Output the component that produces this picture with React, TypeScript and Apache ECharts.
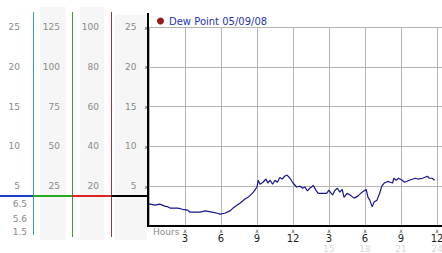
import React, { useEffect, useRef } from "react";
import * as echarts from "echarts";

// ---- data ----
const seriesName = "Dew Point 05/09/08";
const hours = [
  0, 0.1, 0.5, 0.9, 1.3, 1.6, 1.75, 2.4, 2.8, 3.2, 3.4, 4.25, 4.7, 5.25, 5.7, 5.9, 6.3, 6.75, 7.0, 7.6,
  8.0, 8.25, 8.6, 8.7, 9.0, 9.1, 9.25, 9.5, 9.75, 9.9, 10.1, 10.3, 10.5, 10.7, 10.9, 11.1, 11.3, 11.5,
  11.75, 12.0, 12.3, 12.6, 12.8, 13.0, 13.2, 13.4, 13.7, 13.9, 14.1, 14.8, 15.0, 15.1, 15.3, 15.5, 15.7,
  15.9, 16.1, 16.25, 16.5, 16.75, 17.1, 17.4, 17.75, 18.1, 18.25, 18.4, 18.6, 18.75, 19.0, 19.25, 19.4,
  19.6, 19.9, 20.1, 20.3, 20.4, 20.6, 20.8, 21.1, 21.3, 21.7, 22.2, 22.4, 22.8, 23.2, 23.35, 23.6, 23.8,
];
const dewPoint = [
  2.75, 2.75, 2.62, 2.75, 2.5, 2.4, 2.25, 2.25, 2.1, 2.0, 1.75, 1.75, 1.9, 1.75, 1.6, 1.5, 1.6, 1.9, 2.25, 2.9,
  3.4, 3.6, 4.1, 4.25, 4.9, 5.75, 5.25, 5.5, 5.9, 5.4, 5.75, 5.25, 5.75, 5.5, 6.1, 5.9, 6.25, 6.4,
  6.0, 5.4, 4.9, 5.0, 4.75, 4.9, 4.4, 4.75, 5.1, 4.5, 4.1, 4.1, 4.5, 4.25, 3.9, 4.5, 4.75,
  4.25, 4.6, 3.6, 4.1, 3.9, 3.5, 3.75, 4.25, 4.6, 3.6, 3.25, 2.4, 3.0, 3.25, 4.25, 5.0,
  5.4, 5.6, 5.5, 5.4, 6.0, 5.75, 6.0, 5.75, 5.5, 5.75, 6.0, 5.9, 6.0, 6.25, 6.0, 6.0, 5.75,
];
const xTickLabels = ["3", "6", "9", "12", "3", "6", "9", "12"];
const xFaintLabels = ["", "", "", "", "15", "18", "21", "24"];
const xAxisName = "Hours";
const plotTicks = [5, 10, 15, 20, 25];
const col1Ticks = [5, 10, 15, 20, 25];
const col2Ticks = [25, 50, 75, 100, 125];
const col3Ticks = [20, 40, 60, 80, 100];
const currentValues = ["6.5", "5.6", "1.5"];

const FONT = "DejaVu Sans";
const GRAY = "#8a8a8a";

function sideAxis(ticks: number[], offset: number) {
  return {
    type: "value",
    position: "left",
    offset,
    min: 0,
    max: ticks[ticks.length - 1],
    interval: ticks[0],
    axisLine: { show: false },
    axisTick: { show: false },
    splitLine: { show: false },
    axisLabel: { showMinLabel: false, margin: 0, color: GRAY, fontSize: 9, fontFamily: FONT },
  };
}

export default function App() {
  const ref = useRef<HTMLDivElement>(null);
  useEffect(() => {
    if (!ref.current) return;
    const chart = echarts.init(ref.current, undefined, { renderer: "svg" });
    const text = (t: string, x: number, y: number, align: string, color: string, size: number) => ({
      type: "text",
      z: 5,
      style: {
        text: t, x, y, fill: color, font: `${size}px '${FONT}'`,
        textAlign: align, textVerticalAlign: "middle", verticalAlign: "middle",
      },
    });
    const line = (x1: number, y1: number, x2: number, y2: number, color: string, w: number) => ({
      type: "line",
      z: 4,
      shape: { x1, y1, x2, y2 },
      style: { stroke: color, lineWidth: w },
    });
    const rect = (x: number, y: number, width: number, height: number) => ({
      type: "rect",
      z: -1,
      shape: { x, y, width, height },
      style: { fill: "#f6f6f6" },
    });
    const option: any = {
      animation: false,
      textStyle: { fontFamily: FONT },
      grid: { left: 149, right: 0, top: 27, bottom: 27, containLabel: false, outerBoundsMode: "none" },
      legend: {
        data: [seriesName],
        left: 157,
        top: 14,
        padding: 0,
        icon: "circle",
        itemWidth: 7,
        itemHeight: 7,
        itemStyle: { color: "#9a1a1a", borderWidth: 0 },
        textStyle: { color: "#1f33b8", fontSize: 10, fontFamily: FONT, lineHeight: 14 },
      },
      xAxis: {
        type: "value",
        min: 0,
        max: 24 + 5 / 12,
        interval: 3,
        axisLine: { show: true, lineStyle: { color: "#000", width: 2 } },
        axisTick: { show: false },
        splitLine: { show: true, showMaxLine: false, lineStyle: { color: "#b4b4b4", width: 1 } },
        axisLabel: {
          showMinLabel: false,
          showMaxLabel: false,
          margin: 1,
          formatter: (v: number) => {
            const idx = v / 3 - 1;
            if (!Number.isInteger(idx) || idx < 0 || idx >= xTickLabels.length) return "";
            return `{m|x}\n{d|${xTickLabels[idx]}}\n{f|${xFaintLabels[idx] || " "}}`;
          },
          rich: {
            m: { fontSize: 6, lineHeight: 6, color: "#444", fontFamily: FONT },
            d: { fontSize: 10, lineHeight: 11, color: "#222", fontFamily: FONT },
            f: { fontSize: 9, lineHeight: 10, color: "#d8d8d8", fontFamily: FONT },
          },
        },
      },
      yAxis: [
        {
          type: "value",
          position: "left",
          min: 0,
          max: plotTicks[plotTicks.length - 1],
          interval: plotTicks[0],
          axisLine: { show: false },
          axisTick: { show: false },
          splitLine: { show: true, lineStyle: { color: "#b4b4b4", width: 1 } },
          axisLabel: {
            showMinLabel: false,
            margin: 1,
            formatter: (v: number) => `{v|${v}}{m|x}`,
            rich: {
              v: { fontSize: 9, color: GRAY, fontFamily: FONT },
              m: { fontSize: 6, color: "#444", fontFamily: FONT, padding: [0, 0, 0, 8] },
            },
          },
        },
        sideAxis(col1Ticks, 129),
        sideAxis(col2Ticks, 89),
        sideAxis(col3Ticks, 50),
      ],
      series: [
        {
          name: seriesName,
          type: "line",
          xAxisIndex: 0,
          yAxisIndex: 0,
          showSymbol: false,
          symbol: "circle",
          itemStyle: { color: "#9a1a1a" },
          lineStyle: { color: "#161690", width: 1.2 },
          data: hours.map((h, i) => [h, dewPoint[i]]),
        },
      ],
      graphic: {
        elements: [
          rect(40, 7, 26, 233),
          rect(80, 7, 24, 233),
          rect(115, 15, 32, 225),
          line(33.5, 12, 33.5, 235, "#3399cc", 1),
          line(72.5, 12, 72.5, 237, "#33a033", 1),
          line(111.5, 12, 111.5, 237, "#aa3333", 1),
          line(148, 13, 148, 227, "#000", 2),
          line(0, 196, 33, 196, "#1a3cd0", 2),
          line(33, 196, 72, 196, "#22aa22", 2),
          line(72, 196, 111, 196, "#dd2222", 2),
          line(111, 196, 148, 196, "#000", 2),
          text(currentValues[0], 27, 204, "right", GRAY, 9),
          text(currentValues[1], 27, 219, "right", GRAY, 9),
          text(currentValues[2], 27, 232, "right", GRAY, 9),
          text(xAxisName, 153, 232, "left", GRAY, 9),
        ],
      },
    };
    chart.setOption(option);
    return () => chart.dispose();
  }, []);
  return (
    <div
      ref={ref}
      style={{ position: "fixed", left: 0, top: 0, width: 442, height: 253, background: "#fff" }}
    />
  );
}
